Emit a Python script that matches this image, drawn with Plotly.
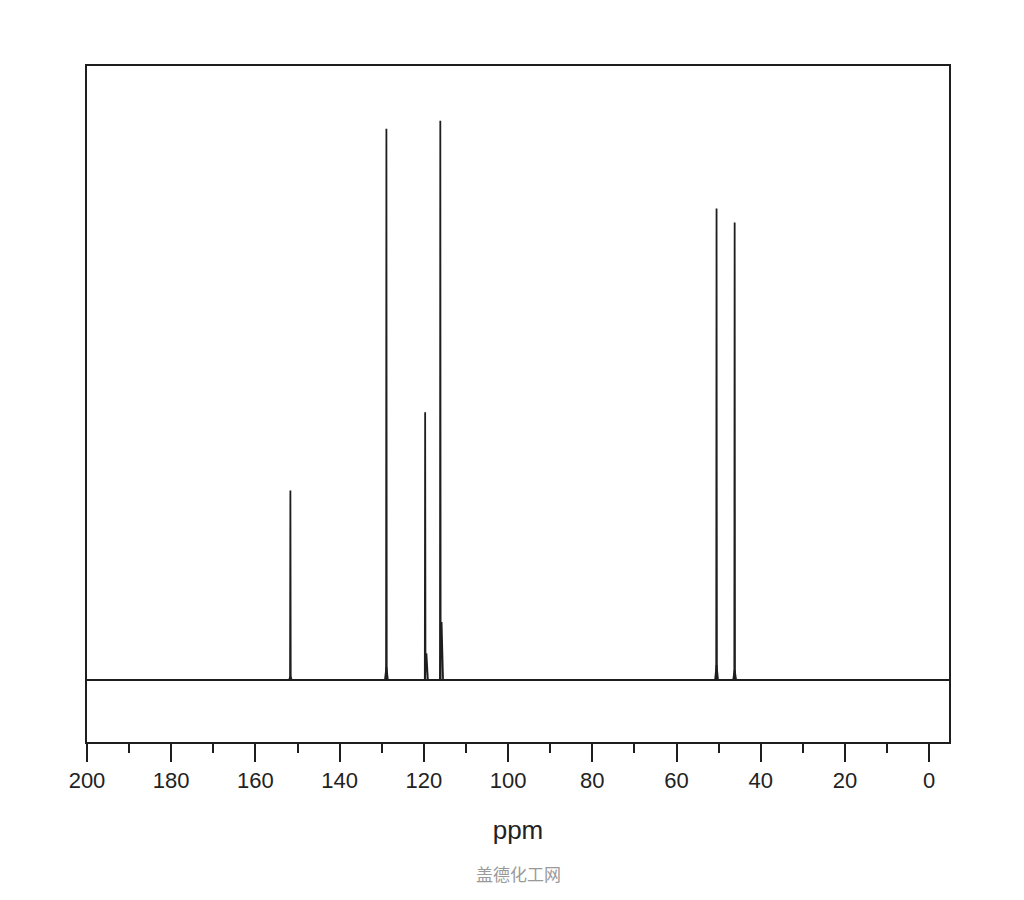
import plotly.graph_objects as go

# 13C NMR peaks (ppm) and relative heights (tallest = 100)
peak_ppm = [151.7, 128.9, 119.7, 116.1, 50.5, 46.2]
peak_height = [33.9, 98.6, 47.9, 100.0, 84.3, 81.8]

# small broad shoulders at the foot of the lines
shoulder_ppm = [151.7, 128.9, 119.4, 115.8, 50.5, 46.2]
shoulder_height = [0.6, 2.3, 4.8, 10.4, 2.7, 1.8]

x_range = [200, -4.7]
y_range = [-11.07, 109.8]
tick_values = [200, 180, 160, 140, 120, 100, 80, 60, 40, 20, 0]

_INK = "#1e1e1e"


def stick_trace(ppm, height, half_width, width):
    xs, ys = [], []
    for p, h in zip(ppm, height):
        xs += [p + half_width, p, p - half_width, None]
        ys += [0, h, 0, None]
    return go.Scatter(x=xs, y=ys, mode="lines", line={"color": _INK, "width": width},
                      hoverinfo="skip", showlegend=False)


fig = go.Figure()
fig.add_hline(y=0, line_color=_INK, line_width=2)
fig.add_trace(stick_trace(shoulder_ppm, shoulder_height, 0.35, 1.8))
fig.add_trace(stick_trace(peak_ppm, peak_height, 0.08, 1.8))

fig.update_layout(
    width=1024,
    height=900,
    margin={"l": 79, "r": 83, "t": 58, "b": 166},
    paper_bgcolor="white",
    plot_bgcolor="white",
    font={"family": "Liberation Sans, Arial, sans-serif", "color": "#222"},
    annotations=[
        {
            "text": "盖德化工网",
            "xref": "paper",
            "yref": "paper",
            "x": 0.5,
            "y": -0.216,
            "showarrow": False,
            "font": {"family": "Noto Sans CJK SC", "size": 17, "color": "#9a9a9a"},
        }
    ],
)
fig.update_xaxes(
    range=x_range,
    tickvals=tick_values,
    ticks="outside",
    ticklen=18,
    tickwidth=2,
    tickcolor=_INK,
    minor={"dtick": 10, "ticks": "outside", "ticklen": 9, "tickwidth": 2, "tickcolor": _INK},
    tickfont={"size": 22},
    showline=True,
    linecolor=_INK,
    linewidth=2,
    mirror=True,
    showgrid=False,
    zeroline=False,
    title={"text": "ppm", "font": {"size": 26}, "standoff": 28},
)
fig.update_yaxes(
    range=y_range,
    showticklabels=False,
    ticks="",
    showline=True,
    linecolor=_INK,
    linewidth=2,
    mirror=True,
    showgrid=False,
    zeroline=False,
)

fig.write_html("out.html")
